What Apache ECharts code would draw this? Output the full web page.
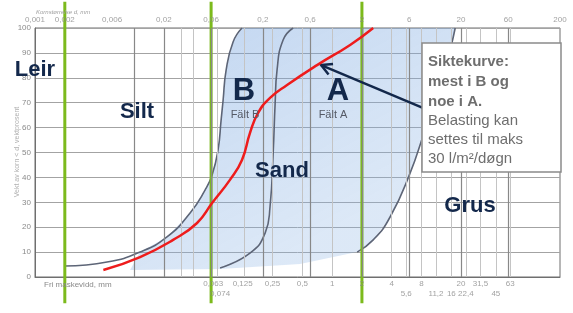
<!DOCTYPE html>
<html>
<head>
<meta charset="utf-8">
<script src="https://cdn.jsdelivr.net/npm/echarts@6/dist/echarts.min.js"></script>
<style>
  html, body { margin: 0; padding: 0; background: #fff; }
  #chart { width: 573px; height: 313px; }
</style>
</head>
<body>
<div id="chart"></div>
<script>
// kornstørrelse (mm) og andel passerende (%)
var siktekurve = [[0.0049, 2.8], [0.0115, 8], [0.0248, 14.9], [0.0433, 21.7], [0.0614, 29.7], [0.093, 39],
  [0.123, 47], [0.148, 57.8], [0.179, 65.9], [0.236, 71.9], [0.351, 77.1], [0.705, 85.1], [1.52, 93.2], [2.6, 100]];
var feltBVenstre = [[0.00201, 4.4], [0.00534, 6], [0.0115, 10], [0.0215, 16.1], [0.0368, 25.7], [0.0521, 34.9],
  [0.0614, 41], [0.0705, 51], [0.0757, 63], [0.0793, 71], [0.085, 83], [0.1, 94.4], [0.123, 100]];
var feltGrense = [[0.0739, 3.6], [0.148, 9.6], [0.211, 17.7], [0.236, 28.1], [0.254, 49.8], [0.266, 69.9],
  [0.278, 83.1], [0.32, 95.2], [0.404, 100]];
var feltAHoyre = [[1.79, 10], [2.6, 14.9], [3.85, 24.1], [6.14, 41.8], [8.7, 59], [12.3, 75], [15.6, 91.2], [17.5, 100]];
var feltBunn = [[0.00912, 2.8], [0.0739, 3.2], [0.475, 5.2]];

// fraksjonsgrenser (leir/silt, silt/sand, sand/grus)
var fraksjonsgrenser = [0.002, 0.06, 2];

// pil fra tekstboks til kurven: [fra x, fra y, til x, til y]
var pil = [[12.3, 65.0, 0.774, 85.1]];

// aksetekster
var toppTekster = ['0,001', '0,002', '0,006', '0,02', '0,06', '0,2', '0,6', '2', '6', '20', '60', '200'];
var bunnTekster1 = ['0,063', '0,125', '0,25', '0,5', '1', '2', '4', '8', '20', '31,5', '63'];
var bunnTekster2 = ['0,074', '5,6', '11,2', '16', '22,4', '45'];

// rutenett
var hovedLinjer = [0.002, 0.006, 0.02, 0.06, 0.2, 0.6, 2, 6, 20, 60];
var hjelpeLinjer = [0.003, 0.004, 0.03, 0.04, 0.074, 0.125, 0.25, 0.5, 1, 4, 5.6, 8, 11.2, 16, 22.4, 31.5, 45, 63];

var FONT = '"Liberation Sans", Arial, sans-serif';
var NAVY = '#13284b';
var BOKS_TEKST = '#6e6e6e';

function tall(s) { return parseFloat(s.replace(',', '.')); }

function tekstSerie(tekster, y) {
  return {
    type: 'scatter',
    data: tekster.map(function (s) { return [tall(s), y]; }),
    symbolSize: 1,
    itemStyle: { color: 'rgba(0,0,0,0)' },
    clip: false,
    silent: true,
    z: 6,
    label: {
      show: true,
      position: 'inside',
      formatter: function (p) { return tekster[p.dataIndex]; },
      fontSize: 8,
      fontFamily: FONT,
      color: '#8a8a8a'
    }
  };
}

function etikett(tekst, x, y, size, bold, color) {
  return {
    type: 'text', x: x, y: y, z: 50,
    style: {
      text: tekst, fontSize: size, fontWeight: bold ? 'bold' : 'normal', fill: color,
      fontFamily: FONT, align: 'center', verticalAlign: 'middle'
    }
  };
}

function boksLinje(tekst, y, bold) {
  return {
    type: 'text', x: 428, y: y, z: 61,
    style: {
      text: tekst, fontSize: 15, fontWeight: bold ? 'bold' : 'normal', fill: BOKS_TEKST,
      fontFamily: FONT, verticalAlign: 'middle'
    }
  };
}

var omriss = feltBVenstre.slice(2).reverse().concat(feltBunn, feltAHoyre);

var chart = echarts.init(document.getElementById('chart'));
chart.setOption({
  animation: false,
  grid: {
    left: 35, right: 13, top: 28, bottom: 36,
    containLabel: false, outerBoundsMode: 'none',
    show: true, borderColor: '#6f6f6f', borderWidth: 1
  },
  xAxis: {
    type: 'log',
    logBase: 10,
    min: 0.001,
    max: 200,
    axisLine: { show: true, lineStyle: { color: '#6f6f6f' } },
    axisTick: { show: false },
    axisLabel: { show: false },
    splitLine: { show: false }
  },
  yAxis: {
    type: 'value',
    min: 0,
    max: 100,
    interval: 10,
    axisLine: { show: true, lineStyle: { color: '#6f6f6f' } },
    axisTick: { show: false },
    axisLabel: { fontSize: 8, color: '#8a8a8a', margin: 4, fontFamily: FONT },
    splitLine: { lineStyle: { color: '#a3a3a3' } }
  },
  series: [
    {
      // vertikale rutenettlinjer
      type: 'line',
      data: [[0.001, 0]],
      showSymbol: false,
      lineStyle: { opacity: 0 },
      silent: true,
      z: 1,
      markLine: {
        silent: true,
        symbol: 'none',
        label: { show: false },
        animation: false,
        data: hjelpeLinjer.map(function (v) {
          return { xAxis: v, lineStyle: { color: '#c4c4c4', width: 1, type: 'solid' } };
        }).concat(hovedLinjer.map(function (v) {
          return { xAxis: v, lineStyle: { color: '#888888', width: 1.2, type: 'solid' } };
        }))
      }
    },
    {
      // felt A + B
      type: 'custom',
      silent: true,
      z: 2,
      data: [[0, 0]],
      renderItem: function (params, api) {
        var pts = omriss.map(function (p) { return api.coord(p); });
        return {
          type: 'polygon',
          shape: { points: pts },
          style: {
            fill: {
              type: 'linear', x: 0, y: 0, x2: 0.4, y2: 1,
              colorStops: [
                { offset: 0, color: 'rgba(105,155,220,0.42)' },
                { offset: 1, color: 'rgba(140,180,228,0.3)' }
              ]
            }
          }
        };
      }
    },
    {
      type: 'line', data: feltBVenstre, smooth: true, showSymbol: false, silent: true, z: 3,
      lineStyle: { color: '#5d6577', width: 1.6 }
    },
    {
      type: 'line', data: feltGrense, smooth: true, showSymbol: false, silent: true, z: 3,
      lineStyle: { color: '#5d6577', width: 1.6 }
    },
    {
      type: 'line', data: feltAHoyre, smooth: true, showSymbol: false, silent: true, z: 3,
      lineStyle: { color: '#5d6577', width: 1.6 }
    },
    {
      // fraksjonsgrenser
      type: 'custom',
      silent: true,
      z: 4,
      data: fraksjonsgrenser.map(function (v) { return [v, 0]; }),
      renderItem: function (params, api) {
        var a = api.coord([api.value(0), 110.5]);
        var b = api.coord([api.value(0), -10.5]);
        return {
          type: 'line',
          shape: { x1: a[0], y1: a[1], x2: b[0], y2: b[1] },
          style: { stroke: '#7cba1c', lineWidth: 3 }
        };
      }
    },
    {
      type: 'line', data: siktekurve, smooth: true, showSymbol: false, silent: true, z: 5,
      lineStyle: { color: '#ee1c1c', width: 2.5 }
    },
    {
      type: 'custom',
      silent: true,
      z: 5,
      data: pil,
      renderItem: function (params, api) {
        var a = api.coord([api.value(0), api.value(1)]);
        var b = api.coord([api.value(2), api.value(3)]);
        var ang = Math.atan2(a[1] - b[1], a[0] - b[0]);
        var L = 12, w = 0.5;
        var h1 = [b[0] + L * Math.cos(ang + w), b[1] + L * Math.sin(ang + w)];
        var h2 = [b[0] + L * Math.cos(ang - w), b[1] + L * Math.sin(ang - w)];
        return {
          type: 'group',
          children: [
            { type: 'line', shape: { x1: a[0], y1: a[1], x2: b[0], y2: b[1] }, style: { stroke: NAVY, lineWidth: 2.5 } },
            { type: 'polyline', shape: { points: [h1, b, h2] }, style: { stroke: NAVY, lineWidth: 2.5, fill: null } }
          ]
        };
      }
    },
    tekstSerie(toppTekster, 103.2),
    tekstSerie(bunnTekster1, -2.8),
    tekstSerie(bunnTekster2, -6.8)
  ],
  graphic: [
    { type: 'text', x: 36, y: 9, z: 50, style: { text: 'Kornstørrelse d, mm', fontSize: 6, fontStyle: 'italic', fill: '#a0a0a0', fontFamily: FONT } },
    { type: 'text', x: 44, y: 281, z: 50, style: { text: 'Fri maskevidd, mm', fontSize: 8, fill: '#8a8a8a', fontFamily: FONT } },
    {
      type: 'text', x: 17, y: 152, rotation: Math.PI / 2, z: 50,
      style: { text: 'Vekt av korn < d, vektprosent', fontSize: 7, fill: '#b0b0b0', fontFamily: FONT, align: 'center', verticalAlign: 'middle' }
    },
    etikett('Leir', 35, 70, 22, true, NAVY),
    etikett('Silt', 137, 112, 22, true, NAVY),
    etikett('B', 244, 91, 31, true, NAVY),
    etikett('Fält B', 245, 115, 11, false, '#555a66'),
    etikett('A', 338, 91, 31, true, NAVY),
    etikett('Fält A', 333, 115, 11, false, '#555a66'),
    etikett('Sand', 282, 171, 22, true, NAVY),
    etikett('Grus', 470, 206, 22, true, NAVY),
    {
      type: 'rect', x: 422, y: 43, z: 60,
      shape: { x: 0, y: 0, width: 139, height: 129 },
      style: { fill: '#ffffff', stroke: '#8a8a8a', lineWidth: 1.5 }
    },
    boksLinje('Siktekurve:', 62, true),
    boksLinje('mest i B og', 82, true),
    boksLinje('noe i A.', 102, true),
    boksLinje('Belasting kan', 121, false),
    boksLinje('settes til maks', 140, false),
    boksLinje('30 l/m²/døgn', 159, false)
  ]
});
</script>
</body>
</html>
